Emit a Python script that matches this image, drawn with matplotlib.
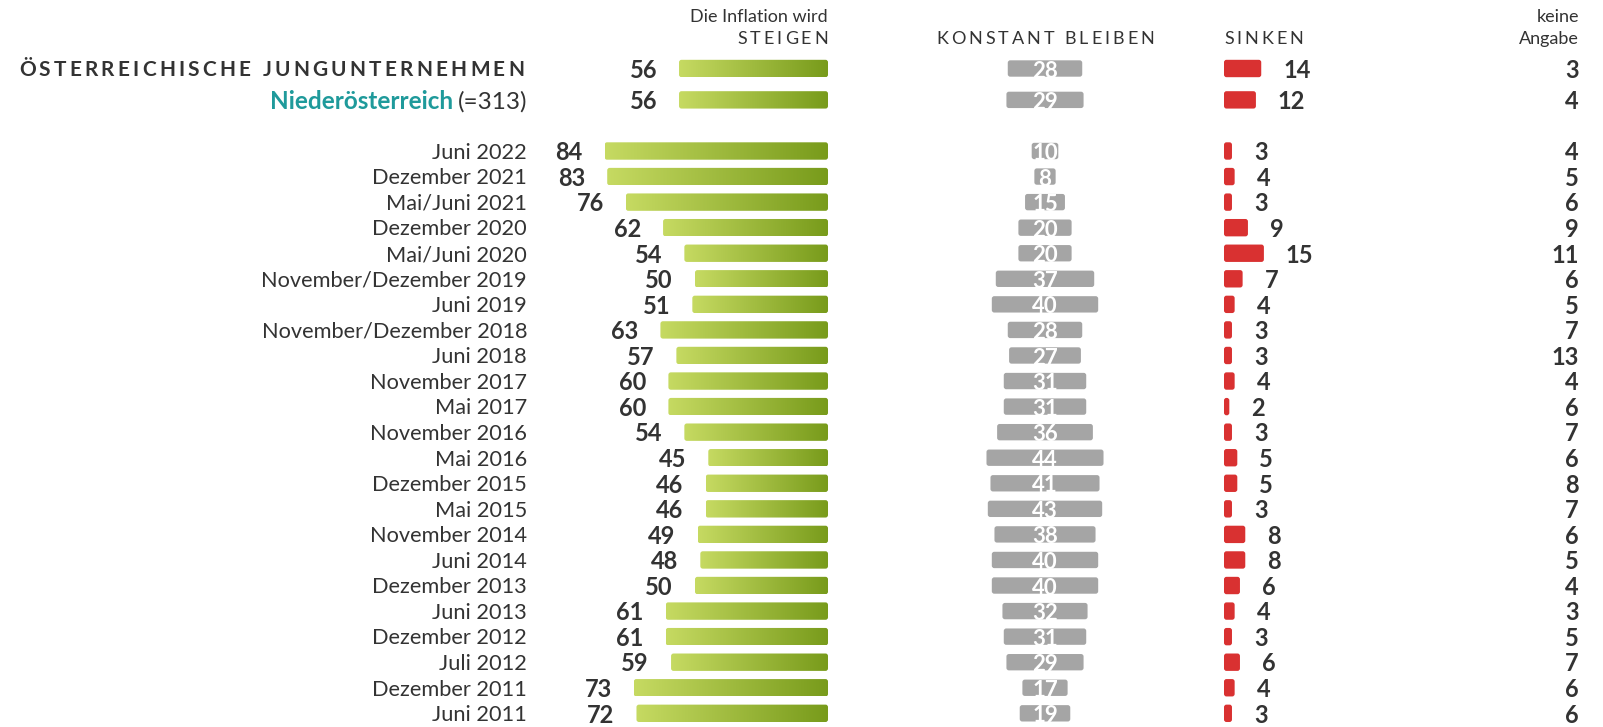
import numpy as np
import matplotlib.pyplot as plt
from matplotlib.patches import FancyBboxPatch
from matplotlib.colors import LinearSegmentedColormap

plt.rcParams['font.family'] = ['Lato', 'DejaVu Sans']

# data
labels = ["Juni 2022", "Dezember 2021", "Mai/Juni 2021", "Dezember 2020", "Mai/Juni 2020",
          "November/Dezember 2019", "Juni 2019", "November/Dezember 2018", "Juni 2018",
          "November 2017", "Mai 2017", "November 2016", "Mai 2016", "Dezember 2015",
          "Mai 2015", "November 2014", "Juni 2014", "Dezember 2013", "Juni 2013",
          "Dezember 2012", "Juli 2012", "Dezember 2011", "Juni 2011"]
steigen = [84, 83, 76, 62, 54, 50, 51, 63, 57, 60, 60, 54, 45, 46, 46, 49, 48, 50, 61, 61, 59, 73, 72]
konstant = [10, 8, 15, 20, 20, 37, 40, 28, 27, 31, 31, 36, 44, 41, 43, 38, 40, 40, 32, 31, 29, 17, 19]
sinken = [3, 4, 3, 9, 15, 7, 4, 3, 3, 4, 2, 3, 5, 5, 3, 8, 8, 6, 4, 3, 6, 4, 3]
keine = [4, 5, 6, 9, 11, 6, 5, 7, 13, 4, 6, 7, 6, 8, 7, 6, 5, 4, 3, 5, 7, 6, 6]

total_row = [56, 28, 14, 3]   # Österreichische Jungunternehmen
noe_row = [56, 29, 12, 4]     # Niederösterreich

# layout (x in pixels, y in rows)
W, H = 1603, 727
ROW = 25.56
Y0 = 151
PX = 2.66          # pixels per percentage point
GREEN_RIGHT = 828
GREY_CENTER = 1045
RED_LEFT = 1224
KA_RIGHT = 1579
LABEL_RIGHT = 527
TOFF = 0.07        # text nudge so digits sit on the bar centre

DARK = '#333333'
GREY = '#a5a5a5'
RED = '#d93131'
TEAL = '#1f9a9b'
green_cmap = LinearSegmentedColormap.from_list('g', ['#c6da62', '#789b1b'])

fig = plt.figure(figsize=(W / 100, H / 100), dpi=100)
ax = fig.add_axes([0, 0, 1, 1])
ax.set_xlim(0, W)
ax.set_ylim((H - Y0) / ROW, -Y0 / ROW)
ax.axis('off')

aspect = 1 / ROW


def rbar(x0, y, w, h, color=None, gradient=False):
    patch = FancyBboxPatch((x0, y - h / 2), w, h,
                           boxstyle="round,pad=0,rounding_size=2.5",
                           mutation_aspect=aspect, linewidth=0,
                           facecolor=color if color else 'none')
    ax.add_patch(patch)
    if gradient:
        grad = np.linspace(0, 1, 256).reshape(1, -1)
        im = ax.imshow(grad, cmap=green_cmap, aspect='auto',
                       extent=[x0, x0 + w, y + h / 2, y - h / 2], zorder=2)
        im.set_clip_path(patch)


renderer = fig.canvas.get_renderer()


def spaced(x, y, s, ha, gap, **kw):
    widths = []
    for ch in s:
        t = ax.text(0, 0, ch if ch != ' ' else 'i', **kw)
        widths.append(t.get_window_extent(renderer).width)
        t.remove()
    total = sum(widths) + gap * (len(s) - 1)
    if ha == 'right':
        x = x - total
    elif ha == 'center':
        x = x - total / 2
    for ch, w in zip(s, widths):
        ax.text(x, y, ch, ha='left', va='center', **kw)
        x += w + gap


def draw_row(y, vals):
    st, ko, si, ka = vals
    w = st * PX
    rbar(GREEN_RIGHT - w, y, w, 0.68, gradient=True)
    ax.text(GREEN_RIGHT - w - 22, y + TOFF, str(st), ha='right', va='center', fontsize=17,
            fontweight='bold', color=DARK)
    w = ko * PX
    rbar(GREY_CENTER - w / 2, y, w, 0.64, color=GREY)
    ax.text(GREY_CENTER, y + 0.1, str(ko), ha='center', va='center', fontsize=16,
            fontweight='bold', color='white', zorder=3)
    w = si * PX
    rbar(RED_LEFT, y, w, 0.68, color=RED)
    ax.text(RED_LEFT + w + 22, y + TOFF, str(si), ha='left', va='center', fontsize=17,
            fontweight='bold', color=DARK)
    ax.text(KA_RIGHT, y + TOFF, str(ka), ha='right', va='center', fontsize=17,
            fontweight='bold', color=DARK)


# header rows
y_total = (68.5 - Y0) / ROW
y_noe = -2.0
draw_row(y_total, total_row)
draw_row(y_noe, noe_row)

spaced(524, y_total + TOFF, "ÖSTERREICHISCHE JUNGUNTERNEHMEN", 'right', 3.25,
       fontsize=15, fontweight='bold', color=DARK)
t2 = ax.text(LABEL_RIGHT, y_noe + TOFF, "(=313)", ha='right', va='center',
             fontsize=17.5, color=DARK)
w2 = t2.get_window_extent(renderer).width
ax.text(LABEL_RIGHT - w2 - 4, y_noe + TOFF, "Niederösterreich", ha='right', va='center',
        fontsize=17.5, fontweight='bold', color=TEAL)

# column headers
y_h1 = (17 - Y0) / ROW
y_h2 = (39.5 - Y0) / ROW
ax.text(GREEN_RIGHT, y_h1, "Die Inflation wird", ha='right', va='center', fontsize=13, color=DARK)
spaced(GREEN_RIGHT, y_h2, "STEIGEN", 'right', 3.0, fontsize=13, color=DARK)
spaced(GREY_CENTER, y_h2, "KONSTANT BLEIBEN", 'center', 3.0, fontsize=13, color=DARK)
spaced(RED_LEFT, y_h2, "SINKEN", 'left', 3.0, fontsize=13, color=DARK)
ax.text(KA_RIGHT, y_h1, "keine", ha='right', va='center', fontsize=13, color=DARK)
ax.text(KA_RIGHT, y_h2, "Angabe", ha='right', va='center', fontsize=13, color=DARK)

# time series rows
for i, lab in enumerate(labels):
    ax.text(LABEL_RIGHT, i + TOFF, lab, ha='right', va='center', fontsize=15.7, color=DARK)
    draw_row(i, [steigen[i], konstant[i], sinken[i], keine[i]])

fig.savefig('out.png', dpi=100)
